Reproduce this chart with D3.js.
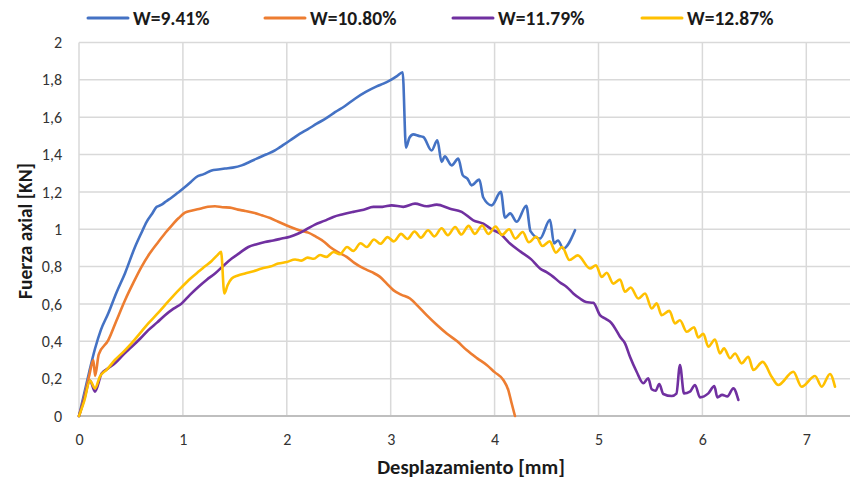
<!DOCTYPE html>
<html>
<head>
<meta charset="utf-8">
<script src="https://cdn.jsdelivr.net/npm/d3@7"></script>
<style>
  html, body { margin: 0; padding: 0; background: #fff; }
  svg { display: block; font-family: Calibri, Carlito, Lato, sans-serif; }
</style>
</head>
<body>
<svg id="chart" width="850" height="481"></svg>
<script>
// Axial force vs. displacement for four moisture contents
const seriesNames = ["W=9.41%", "W=10.80%", "W=11.79%", "W=12.87%"];
const seriesColors = ["#4472C4", "#ED7D31", "#7030A0", "#FFC000"];

const xTicks = [0, 1, 2, 3, 4, 5, 6, 7];
const yTicks = [0, 0.2, 0.4, 0.6, 0.8, 1, 1.2, 1.4, 1.6, 1.8, 2];

// [displacement mm, force kN]
const w941 = [
  [0,0],[0.05,0.12],[0.1,0.24],[0.154,0.36],[0.21,0.46],[0.282,0.55],[0.36,0.66],[0.443,0.765],
  [0.539,0.905],[0.6,0.98],[0.651,1.04],[0.7,1.08],[0.748,1.12],[0.79,1.13],[0.84,1.15],[0.892,1.17],
  [0.95,1.195],[1.02,1.226],[1.08,1.255],[1.13,1.28],[1.2,1.295],[1.277,1.315],[1.34,1.32],
  [1.405,1.325],[1.48,1.33],[1.566,1.342],[1.64,1.36],[1.71,1.378],[1.8,1.4],[1.886,1.422],
  [1.935,1.44],[2.03,1.475],[2.127,1.512],[2.2,1.535],[2.288,1.565],[2.38,1.595],[2.464,1.627],
  [2.56,1.66],[2.656,1.699],[2.76,1.735],[2.865,1.765],[2.93,1.78],[2.993,1.797],[3.06,1.82],
  [3.115,1.841],[3.147,1.437],[3.18,1.49],[3.218,1.508],[3.27,1.5],[3.314,1.494],[3.394,1.422],
  [3.449,1.476],[3.49,1.36],[3.52,1.39],[3.587,1.342],[3.65,1.378],[3.693,1.29],[3.74,1.27],
  [3.779,1.235],[3.853,1.266],[3.891,1.17],[3.972,1.128],[4.06,1.2],[4.1,1.062],[4.15,1.085],
  [4.213,1.04],[4.305,1.126],[4.345,0.99],[4.437,0.95],[4.533,1.05],[4.572,0.924],[4.61,0.94],
  [4.661,0.897],[4.774,0.995]
];
const w1080 = [
  [0,0],[0.05,0.1],[0.1,0.22],[0.138,0.3],[0.155,0.215],[0.19,0.33],[0.282,0.406],[0.36,0.51],
  [0.443,0.62],[0.52,0.71],[0.603,0.8],[0.68,0.87],[0.763,0.932],[0.83,0.98],[0.892,1.02],
  [0.96,1.06],[1.02,1.089],[1.09,1.1],[1.165,1.11],[1.24,1.12],[1.309,1.123],[1.38,1.118],
  [1.453,1.116],[1.53,1.105],[1.598,1.098],[1.68,1.088],[1.758,1.075],[1.84,1.06],[1.918,1.04],
  [2.0,1.02],[2.079,1.003],[2.15,0.99],[2.207,0.982],[2.28,0.96],[2.361,0.932],[2.416,0.905],
  [2.5,0.875],[2.576,0.852],[2.65,0.82],[2.74,0.79],[2.82,0.77],[2.897,0.745],[2.96,0.71],
  [3.025,0.674],[3.1,0.65],[3.186,0.629],[3.26,0.59],[3.346,0.54],[3.44,0.49],[3.539,0.442],
  [3.64,0.4],[3.731,0.353],[3.83,0.31],[3.924,0.273],[4.0,0.235],[4.084,0.193],[4.132,0.139],
  [4.164,0.068],[4.196,0.0]
];
const w1179 = [
  [0,0],[0.05,0.09],[0.106,0.19],[0.154,0.13],[0.218,0.228],[0.28,0.255],[0.346,0.282],[0.43,0.33],
  [0.507,0.37],[0.59,0.415],[0.667,0.46],[0.75,0.5],[0.828,0.54],[0.91,0.575],[0.988,0.603],
  [1.07,0.65],[1.148,0.691],[1.23,0.73],[1.309,0.763],[1.39,0.805],[1.47,0.843],[1.55,0.875],
  [1.63,0.905],[1.71,0.92],[1.79,0.932],[1.87,0.94],[1.951,0.95],[2.03,0.96],[2.111,0.977],
  [2.19,1.0],[2.271,1.025],[2.36,1.045],[2.448,1.066],[2.54,1.08],[2.64,1.093],[2.74,1.105],
  [2.833,1.12],[2.92,1.12],[3.009,1.128],[3.121,1.12],[3.234,1.137],[3.346,1.123],[3.443,1.132],
  [3.571,1.11],[3.683,1.093],[3.795,1.048],[3.891,1.03],[3.97,1.0],[4.052,0.977],[4.148,0.924],
  [4.25,0.88],[4.35,0.84],[4.437,0.79],[4.5,0.77],[4.565,0.745],[4.63,0.715],[4.694,0.691],
  [4.76,0.655],[4.822,0.629],[4.88,0.61],[4.95,0.606],[5.014,0.54],[5.07,0.52],[5.127,0.496],
  [5.17,0.46],[5.207,0.424],[5.255,0.389],[5.303,0.317],[5.367,0.237],[5.431,0.175],[5.479,0.202],
  [5.512,0.143],[5.55,0.135],[5.585,0.171],[5.624,0.118],[5.705,0.107],[5.75,0.12],[5.784,0.273],
  [5.823,0.121],[5.88,0.13],[5.929,0.166],[5.977,0.1],[6.057,0.121],[6.115,0.16],[6.144,0.1],
  [6.19,0.113],[6.24,0.105],[6.298,0.148],[6.346,0.086]
];
const w1287 = [
  [0,0],[0.05,0.08],[0.106,0.19],[0.154,0.148],[0.2,0.21],[0.27,0.25],[0.346,0.3],[0.43,0.345],
  [0.507,0.39],[0.59,0.445],[0.667,0.496],[0.75,0.545],[0.828,0.594],[0.91,0.645],[0.988,0.69],
  [1.07,0.735],[1.148,0.772],[1.21,0.8],[1.277,0.83],[1.33,0.86],[1.367,0.879],[1.399,0.656],
  [1.43,0.7],[1.47,0.736],[1.53,0.752],[1.598,0.763],[1.68,0.775],[1.758,0.79],[1.84,0.8],
  [1.918,0.816],[2.0,0.825],[2.08,0.838],[2.14,0.832],[2.2,0.848],[2.26,0.842],[2.32,0.862],
  [2.38,0.852],[2.45,0.878],[2.51,0.866],[2.58,0.905],[2.64,0.884],[2.71,0.925],[2.77,0.905],
  [2.84,0.945],[2.9,0.922],[2.97,0.958],[3.03,0.935],[3.1,0.975],[3.16,0.948],[3.23,0.988],
  [3.29,0.955],[3.36,0.995],[3.42,0.962],[3.49,1.005],[3.55,0.968],[3.62,1.012],[3.68,0.972],
  [3.75,1.018],[3.81,0.975],[3.88,1.02],[3.94,0.975],[4.01,1.015],[4.07,0.97],[4.14,1.0],
  [4.2,0.95],[4.27,0.985],[4.33,0.93],[4.4,0.96],[4.46,0.91],[4.53,0.935],[4.59,0.875],
  [4.65,0.905],[4.72,0.835],[4.8,0.86],[4.918,0.79],[4.976,0.807],[5.03,0.745],[5.079,0.767],
  [5.143,0.709],[5.207,0.731],[5.255,0.665],[5.31,0.688],[5.383,0.629],[5.448,0.656],[5.512,0.576],
  [5.56,0.603],[5.608,0.54],[5.682,0.563],[5.736,0.496],[5.784,0.513],[5.849,0.451],[5.92,0.475],
  [5.96,0.42],[6.009,0.44],[6.057,0.371],[6.121,0.41],[6.169,0.335],[6.208,0.362],[6.266,0.309],
  [6.314,0.335],[6.378,0.282],[6.442,0.317],[6.49,0.246],[6.58,0.29],[6.667,0.21],[6.73,0.166],
  [6.875,0.237],[6.955,0.157],[7.084,0.214],[7.148,0.157],[7.228,0.225],[7.276,0.157]
];
const seriesData = [w941, w1080, w1179, w1287];

const svg = d3.select("#chart");
const x = d3.scaleLinear().domain([0, 8]).range([79, 910.2]);
const y = d3.scaleLinear().domain([0, 2]).range([416, 42.5]);

const locale = d3.formatLocale({ decimal: ",", thousands: ".", grouping: [3], currency: ["", ""] });
const fmtY = v => locale.format("~g")(+v.toFixed(1));

// gridlines
svg.append("g").selectAll("line").data(yTicks.filter(d => d > 0)).join("line")
  .attr("x1", 79).attr("x2", 850)
  .attr("y1", d => y(d)).attr("y2", d => y(d))
  .attr("stroke", "#d9d9d9").attr("stroke-width", 1.5);
svg.append("g").selectAll("line").data(xTicks).join("line")
  .attr("x1", d => x(d)).attr("x2", d => x(d))
  .attr("y1", y(2)).attr("y2", y(0))
  .attr("stroke", "#d9d9d9").attr("stroke-width", 1.5);

// x axis baseline
svg.append("line").attr("x1", 79).attr("x2", 850).attr("y1", y(0)).attr("y2", y(0))
  .attr("stroke", "#bfbfbf").attr("stroke-width", 2);

// tick labels via d3 axes (no domain / tick lines)
const xAxis = svg.append("g").attr("transform", `translate(0,${y(0)})`)
  .call(d3.axisBottom(x).tickValues(xTicks).tickSize(0).tickPadding(18).tickFormat(d3.format("d")));
const yAxis = svg.append("g").attr("transform", "translate(79,0)")
  .call(d3.axisLeft(y).tickValues(yTicks).tickSize(0).tickPadding(17).tickFormat(fmtY));
[xAxis, yAxis].forEach(g => {
  g.select(".domain").remove();
  g.selectAll("text").attr("font-size", 16).attr("fill", "#333")
    .attr("font-family", "Calibri, Carlito, Lato, sans-serif");
});

// series lines
const line = d3.line().x(d => x(d[0])).y(d => y(d[1])).curve(d3.curveMonotoneX);
svg.append("g").selectAll("path").data(seriesData).join("path")
  .attr("d", line).attr("fill", "none")
  .attr("stroke", (d, i) => seriesColors[i]).attr("stroke-width", 2.6)
  .attr("stroke-linejoin", "round").attr("stroke-linecap", "round");

// axis titles
svg.append("text").attr("x", 471).attr("y", 474).attr("text-anchor", "middle")
  .attr("font-size", 20.5).attr("font-weight", "bold").attr("fill", "#1a1a1a")
  .text("Desplazamiento [mm]");
svg.append("text").attr("transform", "translate(32,231) rotate(-90)").attr("text-anchor", "middle")
  .attr("font-size", 19.5).attr("font-weight", "bold").attr("fill", "#1a1a1a")
  .text("Fuerza axial [KN]");

// legend
const legendX = [88, 265, 453, 642];
const legend = svg.append("g").selectAll("g").data(seriesNames).join("g")
  .attr("transform", (d, i) => `translate(${legendX[i]},18)`);
legend.append("line").attr("x1", 0).attr("x2", 40).attr("y1", 0).attr("y2", 0)
  .attr("stroke", (d, i) => seriesColors[i]).attr("stroke-width", 3).attr("stroke-linecap", "round");
legend.append("text").attr("x", 45).attr("y", 7)
  .attr("font-size", 19.5).attr("font-weight", "bold").attr("fill", "#1a1a1a")
  .text(d => d);
</script>
</body>
</html>
